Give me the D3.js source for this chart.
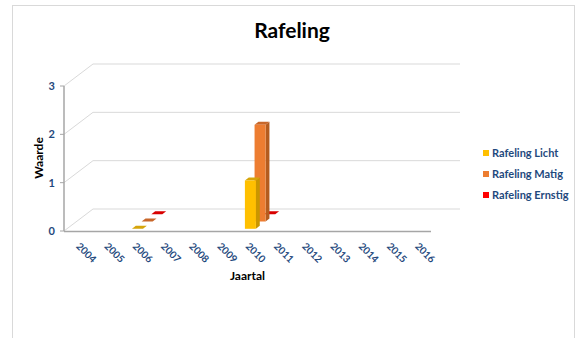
<!DOCTYPE html>
<html><head><meta charset="utf-8">
<script src="https://cdn.jsdelivr.net/npm/d3@7/dist/d3.min.js"></script>
<style>body{margin:0;background:#fff}svg{display:block}text{font-family:Lato,"Open Sans",sans-serif}</style>
</head><body><svg id="c" width="580" height="338"></svg>
<script>
const years = ["2004","2005","2006","2007","2008","2009","2010","2011","2012","2013","2014","2015","2016"];
const seriesNames = ["Rafeling Licht","Rafeling Matig","Rafeling Ernstig"];
const licht   = [null,null,0,null,null,null,1,null,null,null,null,null,null];
const matig   = [null,null,0,null,null,null,2,null,null,null,null,null,null];
const ernstig = [null,null,0,null,null,null,0,null,null,null,null,null,null];
const yTicks = [0,1,2,3];
const seriesValues = [licht, matig, ernstig];
const frontCols = ["#FFC000","#ED7D31","#FF0000"];
const topCols   = ["#D6A50A","#C8672A","#D80000"];
const sideCols  = ["#C99600","#B45C1F","#B00000"];
const legendCols= ["#FFC000","#ED7D31","#FF0000"];

const svg = d3.select("#c");
const blue = "#1F497D";
// frame
svg.append("rect").attr("x",12.5).attr("y",5.5).attr("width",562).attr("height",340)
  .attr("fill","#fff").attr("stroke","#d9d9d9").attr("stroke-width",1);

const Y0 = 231, DX = 29, DY = 22;
const x = d3.scaleBand().domain(years).range([64,431]).padding(0);
const y = d3.scaleLinear().domain([0,3]).range([0,145]);
const z = d3.scaleBand().domain(seriesNames).range([0,1]).paddingInner(0.6).paddingOuter(0.3);
const P = (px, v, dz) => [px + dz*DX, Y0 - y(v) - dz*DY];
const line = d3.line();

// gridlines: back wall + left wall
const g = svg.append("g");
yTicks.forEach(t => {
  g.append("path").attr("d", line([P(64,t,0),P(64,t,1),P(431,t,1)]))
    .attr("fill","none").attr("stroke","#d9d9d9").attr("stroke-width",1);
});
// y axis
g.append("line").attr("x1",64).attr("x2",64).attr("y1",P(64,3,0)[1]).attr("y2",Y0)
  .attr("stroke","#a6a6a6").attr("stroke-width",1.5);
yTicks.forEach(t => {
  g.append("line").attr("x1",60).attr("x2",64).attr("y1",P(64,t,0)[1]).attr("y2",P(64,t,0)[1])
    .attr("stroke","#a6a6a6");
  g.append("text").attr("x",55).attr("y",P(64,t,0)[1]+4).attr("text-anchor","end")
    .attr("font-size",11).attr("font-weight","bold").attr("fill",blue).text(t);
});
// x axis
g.append("line").attr("x1",64).attr("x2",431).attr("y1",Y0+0.5).attr("y2",Y0+0.5)
  .attr("stroke","#a6a6a6").attr("stroke-width",1.5);
years.forEach(yr => {
  const cx = x(yr) + x.bandwidth()/2;
  g.append("text").attr("transform",`translate(${cx-2.5},${Y0+16}) rotate(45)`)
    .attr("font-size",10).attr("font-weight","bold").attr("fill",blue).text(yr);
});

// bars, back to front
const bars = svg.append("g");
for (let s = seriesNames.length-1; s >= 0; s--) {
  const zf = z(seriesNames[s]), zb = zf + z.bandwidth();
  seriesValues[s].forEach((v,i) => {
    if (v === null) return;
    const bw = x.bandwidth()*0.39;
    const xl = x(years[i]) + (x.bandwidth()-bw)/2, xr = xl + bw;
    if (v > 0) {
      bars.append("path").attr("d", line([P(xr,0,zf),P(xr,v,zf),P(xr,v,zb),P(xr,0,zb)])+"Z")
        .attr("fill",sideCols[s]);
    }
    bars.append("path").attr("d", line([P(xl,v,zf),P(xr,v,zf),P(xr,v,zb),P(xl,v,zb)])+"Z")
      .attr("fill", topCols[s]);
    if (v > 0) {
      bars.append("path").attr("d", line([P(xl,0,zf),P(xl,v,zf),P(xr,v,zf),P(xr,0,zf)])+"Z")
        .attr("fill",frontCols[s]);
    }
  });
}

// titles
svg.append("text").attr("x",292).attr("y",38).attr("text-anchor","middle")
  .attr("font-size",21).attr("font-weight","bold").attr("fill","#000").text("Rafeling");
svg.append("text").attr("transform","translate(43,158) rotate(-90)").attr("text-anchor","middle")
  .attr("font-size",12).attr("font-weight","bold").attr("fill","#000").text("Waarde");
svg.append("text").attr("x",247.5).attr("y",280).attr("text-anchor","middle")
  .attr("font-size",12).attr("font-weight","bold").attr("fill","#000").text("Jaartal");

// legend
const lg = svg.append("g");
seriesNames.forEach((n,i) => {
  const cy = 153 + i*21;
  lg.append("rect").attr("x",483).attr("y",cy-3).attr("width",6).attr("height",6).attr("fill",legendCols[i]);
  lg.append("text").attr("x",492).attr("y",cy+4).attr("font-size",11).attr("font-weight","bold")
    .attr("fill",blue).text(n);
});
</script></body></html>
